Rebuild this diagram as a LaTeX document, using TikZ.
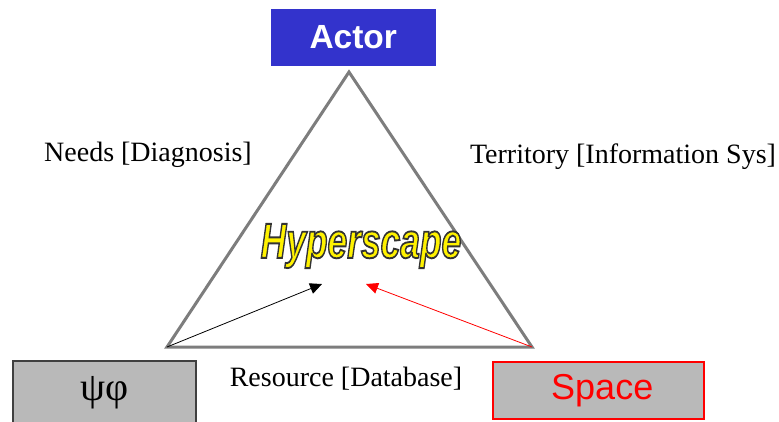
\documentclass[tikz,border=0pt]{standalone}
\usepackage{fontspec}
\setmainfont{Liberation Serif}
\setsansfont{Liberation Sans}
\usetikzlibrary{arrows.meta}

\definecolor{actorblue}{RGB}{51,51,204}
\definecolor{boxgray}{RGB}{185,185,185}
\definecolor{edgegray}{RGB}{125,125,125}

% yellow letters with a dark outline
\newcommand{\outlined}[1]{{\color{yellow}\special{pdf:literal direct 0.2 G 2 Tr 1.3 w}#1\special{pdf:literal direct 0 Tr}}}

\begin{document}
\begin{tikzpicture}[
    x=1pt, y=-1pt,
    box/.style={draw, line width=1.5pt, fill=boxgray, inner sep=0pt, anchor=north west},
    side/.style={font=\fontsize{28}{32}\selectfont},
    flow/.style={-{Triangle[length=12pt,width=11pt]}, line width=0.8pt}
  ]
  \useasboundingbox (0,0) rectangle (779,421);
  % corner boxes
  \node [box, draw=none, fill=actorblue, minimum width=165pt, minimum height=57pt,
    text=white, font=\sffamily\bfseries\fontsize{33.5}{38}\selectfont] (actor) at (270,8) {Actor};
  \node [box, draw=black!75, minimum width=183pt, minimum height=63pt,
    font=\fontsize{40}{44}\selectfont] (psiphi) at (12,360) {ψφ};
  \node [box, draw=red, minimum width=211pt, minimum height=57pt,
    text=red, font=\sffamily\fontsize{36}{40}\selectfont] (space) at (492,361) {\hspace*{8pt}Space};
  % triangle
  \coordinate (top) at (349,72);
  \coordinate (bl) at (167,347);
  \coordinate (br) at (532,347);
  \draw [edgegray, line width=3pt, line join=miter] (top) -- (br) -- (bl) -- cycle;
  % labels on the sides
  \node [side] (needs) at (148,155) {Needs [Diagnosis]};
  \node [side] (terr) at (623,157) {Territory [Information Sys]};
  \node [side] (res) at (346,379) {Resource [Database]};
  % centre
  \node [font=\sffamily\bfseries\itshape\fontsize{34}{38}\selectfont] (hyper) at (361,246)
    {\scalebox{1.04}[1.45]{\outlined{Hyperscape}}};
  \coordinate (tipa) at (322,284);
  \coordinate (tipb) at (366,284);
  \draw [flow, black] (bl) -- (tipa);
  \draw [flow, red] (br) -- (tipb);
\end{tikzpicture}
\end{document}
